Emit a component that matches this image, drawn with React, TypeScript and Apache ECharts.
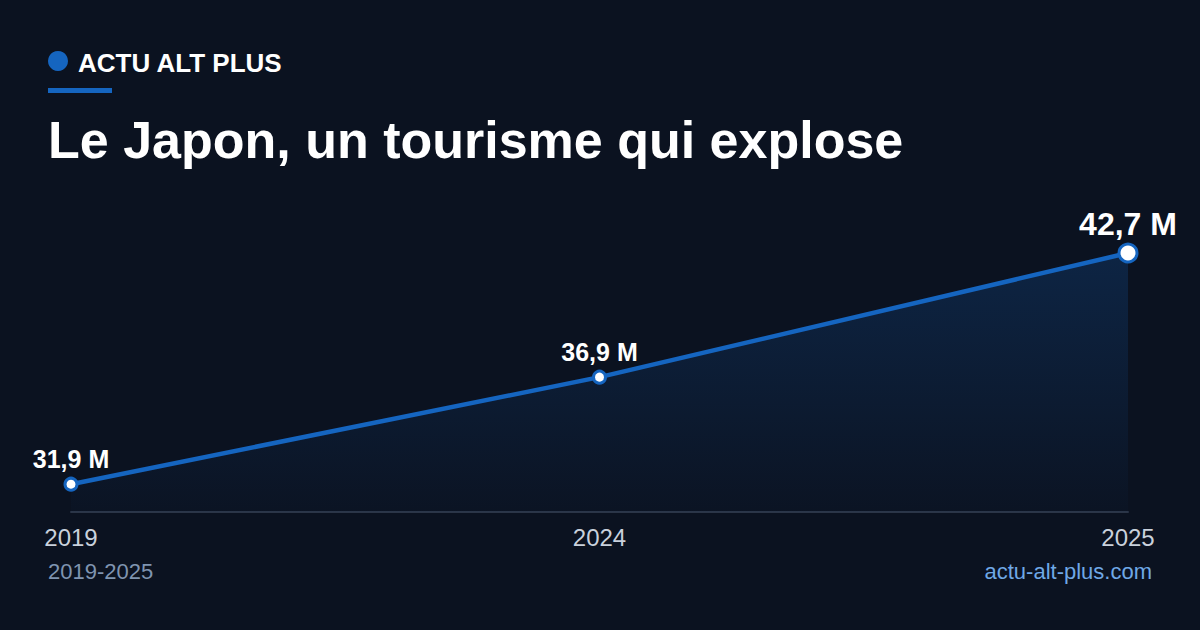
import React, { useEffect, useRef } from "react";
import * as echarts from "echarts";

const years = ["2019", "2024", "2025"];
const visitors = [31.9, 36.9, 42.7];
const valueLabels = ["31,9 M", "36,9 M", "42,7 M"];

const BG = "#0b1220";
const BLUE = "#1565c0";
const FONT = "'Liberation Sans', Arial, sans-serif";

export default function App() {
  const ref = useRef<HTMLDivElement>(null);
  useEffect(() => {
    if (!ref.current) return;
    const chart = echarts.init(ref.current, undefined, { renderer: "svg" });
    const last = visitors.length - 1;
    chart.setOption({
      animation: false,
      backgroundColor: BG,
      textStyle: { fontFamily: FONT },
      grid: { left: 71, right: 72, top: 253, bottom: 118 },
      xAxis: {
        type: "category",
        data: years,
        boundaryGap: false,
        axisLine: { show: true, lineStyle: { color: "#2b3547", width: 2 } },
        axisTick: { show: false },
        axisLabel: { color: "#c9d1dc", fontSize: 24, margin: 13, fontFamily: FONT },
        splitLine: { show: false },
      },
      yAxis: {
        type: "value",
        min: 30.6,
        max: 42.7,
        show: false,
        splitLine: { show: false },
      },
      series: [
        {
          type: "line",
          data: visitors.map((v, i) => ({
            value: v,
            symbolSize: i === last ? 18 : 12,
            label: {
              show: true,
              position: "top",
              formatter: valueLabels[i],
              color: "#ffffff",
              fontWeight: "bold",
              fontSize: i === last ? 32 : 25,
              distance: i === last ? 3 : 5,
              fontFamily: FONT,
            },
          })),
          symbol: "circle",
          itemStyle: { color: "#ffffff", borderColor: BLUE, borderWidth: 3 },
          lineStyle: { color: BLUE, width: 4.5 },
          areaStyle: {
            color: new echarts.graphic.LinearGradient(0, 0, 0, 1, [
              { offset: 0, color: "rgba(21,101,192,0.32)" },
              { offset: 1, color: "rgba(21,101,192,0.03)" },
            ]),
          },
          z: 3,
        },
      ],
      graphic: [
        { type: "circle", shape: { cx: 58, cy: 61, r: 10 }, style: { fill: BLUE } },
        {
          type: "text",
          x: 78,
          y: 63,
          style: {
            text: "ACTU ALT PLUS",
            fill: "#ffffff",
            font: `bold 26px ${FONT}`,
            textVerticalAlign: "middle",
          },
        },
        { type: "rect", shape: { x: 48, y: 88, width: 64, height: 5 }, style: { fill: BLUE } },
        {
          type: "text",
          x: 48,
          y: 140,
          style: {
            text: "Le Japon, un tourisme qui explose",
            fill: "#ffffff",
            font: `bold 52px ${FONT}`,
            textVerticalAlign: "middle",
          },
        },
        {
          type: "text",
          x: 48,
          y: 571,
          style: {
            text: "2019-2025",
            fill: "#7f94b0",
            font: `22px ${FONT}`,
            textVerticalAlign: "middle",
          },
        },
        {
          type: "text",
          x: 1152,
          y: 571,
          style: {
            text: "actu-alt-plus.com",
            fill: "#6fa8e6",
            font: `22px ${FONT}`,
            textAlign: "right",
            textVerticalAlign: "middle",
          },
        },
      ],
    });
    return () => chart.dispose();
  }, []);
  return (
    <div
      ref={ref}
      style={{ position: "fixed", left: 0, top: 0, width: 1200, height: 630 }}
    />
  );
}
